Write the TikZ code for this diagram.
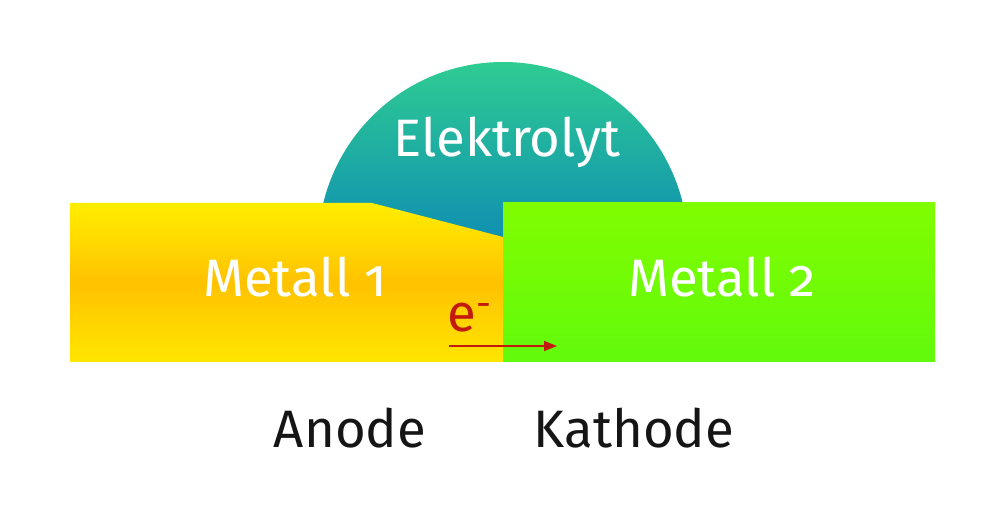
\documentclass[tikz,border=0pt]{standalone}
\usepackage{fontspec}
\setmainfont{Fira Sans}[Numbers=OldStyle]
\usepackage{tikz}
\usetikzlibrary{arrows.meta}
\definecolor{elektop}{HTML}{2FCD92}
\definecolor{elekbot}{HTML}{0E8DB2}
\definecolor{anodtop}{HTML}{FFEE00}
\definecolor{anodmid}{HTML}{FFC200}
\definecolor{anodbot}{HTML}{FFE600}
\definecolor{kathtop}{HTML}{80FD00}
\definecolor{kathbot}{HTML}{62FA0C}
\definecolor{elecred}{HTML}{C21A0E}
\definecolor{labelgray}{HTML}{151515}

\begin{document}
\begin{tikzpicture}[
      x=0.02cm,y=0.02cm,
      font=\fontsize{30}{34}\selectfont,
      label/.style={anchor=base,inner sep=0pt},
      inlabel/.style={label,text=white},
      flow/.style={-{Triangle[length=2.6mm,width=2mm]},line width=0.8pt,draw=elecred}
    ]
    \useasboundingbox[fill=white] (0,0) rectangle (1000,520);
    % electrolyte drop
    \shade[top color=elektop,bottom color=elekbot]
      (503,273) ++(2.17:185) arc[start angle=2.17,end angle=177.83,radius=185] -- cycle;
    % metals
    \shade[top color=anodtop,bottom color=anodbot,middle color=anodmid]
      (70,158) -- (70,317) -- (372,317) -- (503,283) -- (503,158) -- cycle;
    \shade[top color=kathtop,bottom color=kathbot] (503,158) rectangle (935,317);

    \node[inlabel] (elektrolyt) at (507,363) {Elektrolyt};
    \node[inlabel] (metall1) at (295,223) {Metall 1};
    \node[inlabel] (metall2) at (722,223) {Metall 2};
    \node[label,text=elecred] (electron) at (470,188) {e\textsuperscript{-}};
    \node[label,text=labelgray] (anode) at (350,72) {Anode};
    \node[label,text=labelgray] (kathode) at (634,72) {Kathode};

    \coordinate (flowstart) at (449,174);
    \coordinate (flowend) at (557,174);
    \draw[flow] (flowstart) -- (flowend);
  \end{tikzpicture}
\end{document}
